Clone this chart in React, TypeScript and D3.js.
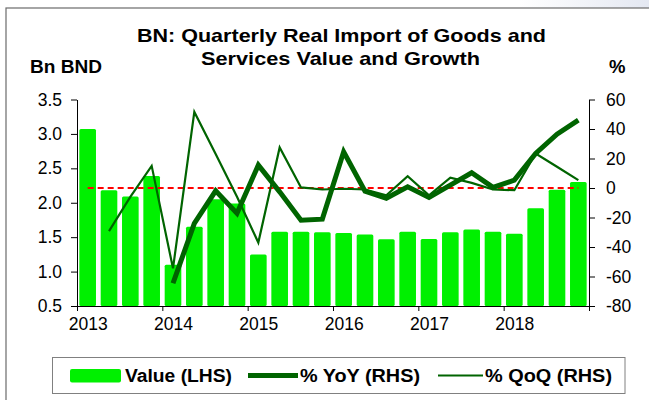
import React, { useEffect, useRef } from "react";
import * as d3 from "d3";

const years = [2013, 2014, 2015, 2016, 2017, 2018];
const quarters = years.flatMap((y) => ["Q1", "Q2", "Q3", "Q4"].map((q) => `${y}${q}`));

// Bn BND
const value = [
  3.07, 2.18, 2.09, 2.39, 1.1, 1.65, 2.05, 1.99, 1.25, 1.58, 1.58, 1.57,
  1.56, 1.54, 1.47, 1.58, 1.475, 1.57, 1.61, 1.58, 1.55, 1.92, 2.19, 2.3,
];
// % YoY
const yoy = [
  null, null, null, null, -64.6, -24, -1.9, -17.2, 15.5, -2.6, -21.8, -21.1,
  24.5, -2.1, -7, 0.8, -6.4, 2, 10.3, 0.4, 5.3, 23.4, 36.5, 46,
];
// % QoQ
const qoq = [
  null, -29.2, -6, 15, -54.5, 51.6, 23, -6, -37, 27.5, 0.4, -1,
  -0.5, -1, -5, 8, -5, 7, 3.5, -1, -1.5, 23.4, 14.4, 5.3,
];
const leftTicks = [0.5, 1.0, 1.5, 2.0, 2.5, 3.0, 3.5];
const rightTicks = [-80, -60, -40, -20, 0, 20, 40, 60];

const W = 649;
const H = 400;
const plot = { left: 77, right: 589, top: 99.5, bottom: 306 };
const font = "'Liberation Sans', Arial, sans-serif";
const barColor = "#00f000";
const lineColor = "#006400";

export default function App() {
  const leftRef = useRef<SVGGElement>(null);
  const rightRef = useRef<SVGGElement>(null);
  const bottomRef = useRef<SVGGElement>(null);

  const x = d3
    .scaleBand<string>()
    .domain(quarters)
    .range([plot.left, plot.right])
    .paddingInner(0.22)
    .paddingOuter(0.11);
  const xYear = d3.scaleLinear().domain([2013, 2019]).range([plot.left, plot.right]);
  const yL = d3.scaleLinear().domain([0.5, 3.5]).range([plot.bottom, plot.top]);
  const yR = d3.scaleLinear().domain([-80, 60]).range([plot.bottom, plot.top]);
  const cx = (q: string) => (x(q) as number) + x.bandwidth() / 2;

  const mkLine = d3
    .line<number | null>()
    .defined((d) => d !== null)
    .x((_, i) => cx(quarters[i]))
    .y((d) => yR(d as number));

  useEffect(() => {
    const style = (g: d3.Selection<SVGGElement, unknown, null, undefined>) => {
      g.selectAll("path, line").attr("stroke", "#000").attr("stroke-width", 1);
      g.selectAll("text")
        .attr("fill", "#000")
        .style("font-family", font)
        .style("font-size", "17.5px");
    };
    d3.select(leftRef.current!)
      .call(
        d3
          .axisLeft(yL)
          .tickValues(leftTicks)
          .tickFormat(d3.format(".1f"))
          .tickSize(6)
          .tickSizeOuter(0)
          .tickPadding(9)
      )
      .call(style);
    d3.select(rightRef.current!)
      .call(
        d3
          .axisRight(yR)
          .tickValues(rightTicks)
          .tickFormat((d) => String(d))
          .tickSize(6)
          .tickSizeOuter(0)
          .tickPadding(11)
      )
      .call(style);
    const step = x.step();
    d3.select(bottomRef.current!)
      .call(
        d3
          .axisBottom(xYear)
          .tickValues([...years, 2019])
          .tickFormat((d) => (+d < 2019 ? String(d) : ""))
          .tickSize(5)
          .tickSizeOuter(0)
          .tickPadding(7)
      )
      .call(style);
    d3.select(bottomRef.current!)
      .selectAll("text")
      .attr("dx", step / 2);
  });

  const legendY = 375.5;

  return (
    <svg
      width={W}
      height={H}
      style={{ position: "absolute", left: 0, top: 0, background: "#fff" }}
    >
      <defs>
        <linearGradient id="corner" x1="0" x2="1" y1="0" y2="0">
          <stop offset="0" stopColor="#fff" />
          <stop offset="1" stopColor="#e4e8f2" />
        </linearGradient>
      </defs>
      <rect x={520} y={0} width={129} height={8} fill="url(#corner)" />
      <rect x={6} y={8} width={W + 10} height={H + 10} fill="#fff" stroke="#6b6b6b" strokeWidth={1.2} />

      <g fontFamily={font} fontWeight="bold" fill="#000" fontSize={18.5}>
        <text x={137} y={42} textLength={409} lengthAdjust="spacingAndGlyphs">
          BN: Quarterly Real Import of Goods and
        </text>
        <text x={201} y={65} textLength={279} lengthAdjust="spacingAndGlyphs">
          Services Value and Growth
        </text>
        <text x={30} y={73} textLength={72} lengthAdjust="spacingAndGlyphs">
          Bn BND
        </text>
        <text x={609} y={73}>
          %
        </text>
      </g>

      <g>
        {value.map((v, i) => (
          <rect
            key={quarters[i]}
            x={x(quarters[i])}
            y={yL(v)}
            width={x.bandwidth()}
            height={plot.bottom - yL(v)}
            fill={barColor}
            rx={1.5}
          />
        ))}
      </g>

      <line
        x1={cx(quarters[0])}
        x2={cx(quarters[quarters.length - 1])}
        y1={yR(0)}
        y2={yR(0)}
        stroke="#ff0000"
        strokeWidth={2}
        strokeDasharray="6,4"
      />

      <path d={mkLine(qoq) ?? ""} fill="none" stroke={lineColor} strokeWidth={2.2} strokeLinejoin="miter" />
      <path d={mkLine(yoy) ?? ""} fill="none" stroke={lineColor} strokeWidth={5} strokeLinejoin="miter" />

      <g ref={leftRef} transform={`translate(${plot.left},0)`} />
      <g ref={rightRef} transform={`translate(${plot.right},0)`} />
      <g ref={bottomRef} transform={`translate(0,${plot.bottom})`} />

      <g fontFamily={font} fontWeight="bold" fontSize={18} fill="#000">
        <rect x={52.5} y={357.5} width={572.5} height={36} fill="#fff" stroke="#808080" strokeWidth={1} />
        <rect x={70} y={369} width={51} height={13.5} rx={2} fill={barColor} />
        <text x={125} y={382} textLength={107} lengthAdjust="spacingAndGlyphs">Value (LHS)</text>
        <line x1={248} x2={298} y1={legendY} y2={legendY} stroke={lineColor} strokeWidth={5} />
        <text x={300} y={382} textLength={120} lengthAdjust="spacingAndGlyphs">% YoY (RHS)</text>
        <line x1={438} x2={483} y1={legendY} y2={legendY} stroke={lineColor} strokeWidth={2.2} />
        <text x={485} y={382} textLength={127} lengthAdjust="spacingAndGlyphs">% QoQ (RHS)</text>
      </g>
    </svg>
  );
}
